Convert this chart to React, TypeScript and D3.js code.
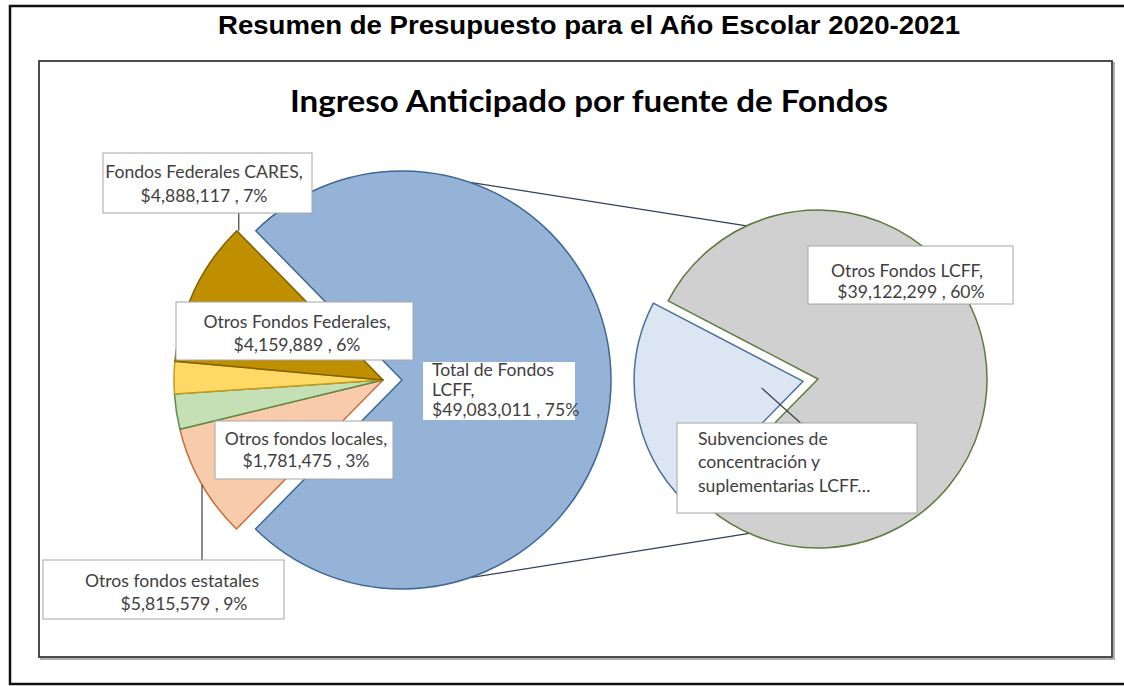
import React from 'react';
import * as d3 from 'd3';

// ---- data ----
const mainCategories = [
  'Total de Fondos LCFF',
  'Otros fondos estatales',
  'Otros fondos locales',
  'Otros Fondos Federales',
  'Fondos Federales CARES',
];
const mainAmounts = [49083011, 5815579, 1781475, 4159889, 4888117];
const mainPercentLabels = ['75%', '9%', '3%', '6%', '7%'];
// wedge sizes as they are drawn in the reference (percent of the circle)
const mainDrawnShares = [74.7, 8.85, 2.71, 2.5, 11.24];

const subCategories = ['Subvenciones de concentración y suplementarias LCFF', 'Otros Fondos LCFF'];
const subAmounts = [9960712, 39122299];
const subPercentLabels = ['15%', '60%'];

const mainFills = ['#95b3d7', '#f8cbad', '#c5e0b4', '#ffd966', '#bf8f00'];
const mainStrokes = ['#3d6796', '#c8703a', '#5f8a45', '#c49a1c', '#7f6000'];
const subFills = ['#dce6f2', '#d0d0d0'];
const subStrokes = ['#4e6f9c', '#5f7a3e'];

const W = 1124;
const H = 686;
const rad = (d: number) => (d * Math.PI) / 180;
const money = d3.format('$,');

const FONT = 'Lato, Carlito, Calibri, sans-serif';
const TXT = '#404040';

function pt(cx: number, cy: number, r: number, a: number): [number, number] {
  return [cx + r * Math.sin(a), cy - r * Math.cos(a)];
}

export default function App() {
  // main pie
  const c1 = { x: 383, y: 380 };
  const R1 = 209;
  const explode1 = 19;
  const start1 = rad(-44.4);
  const pieMain = d3.pie<number>().sort(null).startAngle(start1).endAngle(start1 + 2 * Math.PI)(mainDrawnShares);
  const arc1 = d3.arc<d3.PieArcDatum<number>>().innerRadius(0).outerRadius(R1);

  // second pie
  const c2 = { x: 818, y: 379 };
  const R2 = 169;
  const explode2 = 15;
  const start2 = rad(-135.5);
  const pieSub = d3.pie<number>().sort(null).startAngle(start2).endAngle(start2 + 2 * Math.PI)(subAmounts);
  const arc2 = d3.arc<d3.PieArcDatum<number>>().innerRadius(0).outerRadius(R2);

  const offsetOf = (d: d3.PieArcDatum<number>, e: number) => {
    const m = (d.startAngle + d.endAngle) / 2;
    return [e * Math.sin(m), -e * Math.cos(m)];
  };

  const blue = pieMain[0];
  const [bx, by] = offsetOf(blue, explode1);
  const blueC = { x: c1.x + bx, y: c1.y + by };
  const subV = pieSub[0];
  const [sx, sy] = offsetOf(subV, explode2);
  const subC = { x: c2.x + sx, y: c2.y + sy };

  // connector lines between the pies
  const lt1 = pt(blueC.x, blueC.y, R1, rad(19));
  const lt2 = pt(c2.x, c2.y, R2, rad(335));
  const lb1 = pt(blueC.x, blueC.y, R1, rad(161));
  const lb2 = pt(c2.x, c2.y, R2, rad(204));

  // leader lines
  const caresTip = pt(c1.x, c1.y, R1, pieMain[4].endAngle);
  const estX = 202;
  const estY = c1.y + Math.sqrt(R1 * R1 - (c1.x - estX) * (c1.x - estX));
  const subMid = (subV.startAngle + subV.endAngle) / 2;
  const subIn = pt(subC.x, subC.y, R2 * 0.25, subMid);

  const lbl = (i: number) => `${money(mainAmounts[i])} , ${mainPercentLabels[i]}`;

  const Box = ({ x, y, w, h }: { x: number; y: number; w: number; h: number }) => (
    <rect x={x} y={y} width={w} height={h} fill="#fff" stroke="#a6a6a6" strokeWidth={1} />
  );

  return (
    <svg width={W} height={H} style={{ position: 'absolute', left: 0, top: 0, background: '#fff' }} fontFamily={FONT}>
      {/* outer frame */}
      <rect x={10} y={6} width={1130} height={678} fill="#fff" stroke="#111" strokeWidth={2.5} />
      <text x={589} y={34} textAnchor="middle" fontFamily="'Liberation Sans', Arial, sans-serif" fontWeight="bold" fontSize={26} fill="#000" textLength={742} lengthAdjust="spacingAndGlyphs">
        Resumen de Presupuesto para el Año Escolar 2020-2021
      </text>
      {/* inner chart box with shadow */}
      <rect x={41} y={63} width={1073} height={596} fill="none" stroke="#b0b0b0" strokeWidth={2} />
      <rect x={39} y={61} width={1073} height={596} fill="#fff" stroke="#3a3a3a" strokeWidth={1.8} />
      <text x={589} y={112} textAnchor="middle" fontWeight="bold" fontSize={31} fill="#000" textLength={598} lengthAdjust="spacingAndGlyphs">
        Ingreso Anticipado por fuente de Fondos
      </text>

      {/* connector lines */}
      <line x1={lt1[0]} y1={lt1[1]} x2={lt2[0]} y2={lt2[1]} stroke="#34405a" strokeWidth={1.3} />
      <line x1={lb1[0]} y1={lb1[1]} x2={lb2[0]} y2={lb2[1]} stroke="#34405a" strokeWidth={1.3} />

      {/* main pie */}
      {pieMain.map((d, i) => {
        const [ox, oy] = i === 0 ? offsetOf(d, explode1) : [0, 0];
        return (
          <path
            key={mainCategories[i]}
            d={arc1(d) as string}
            transform={`translate(${c1.x + ox},${c1.y + oy})`}
            fill={mainFills[i]}
            stroke={mainStrokes[i]}
            strokeWidth={1.5}
            strokeLinejoin="round"
          />
        );
      })}

      {/* second pie */}
      {pieSub.map((d, i) => {
        const [ox, oy] = i === 0 ? offsetOf(d, explode2) : [0, 0];
        return (
          <path
            key={subCategories[i]}
            d={arc2(d) as string}
            transform={`translate(${c2.x + ox},${c2.y + oy})`}
            fill={subFills[i]}
            stroke={subStrokes[i]}
            strokeWidth={1.5}
            strokeLinejoin="round"
          />
        );
      })}

      {/* leader lines */}
      <line x1={caresTip[0] + 2} y1={213} x2={caresTip[0] + 2} y2={caresTip[1]} stroke="#404040" strokeWidth={1.2} />
      <line x1={estX} y1={estY} x2={estX} y2={560} stroke="#404040" strokeWidth={1.2} />
      <line x1={subIn[0]} y1={subIn[1]} x2={805} y2={427} stroke="#404040" strokeWidth={1.2} />

      {/* labels */}
      <g fontSize={17.6} fill={TXT}>
        <Box x={103} y={153} w={209} h={60} />
        <text x={204} y={178} textAnchor="middle">{mainCategories[4]},</text>
        <text x={204} y={202} textAnchor="middle">{lbl(4)}</text>

        <Box x={176} y={302} w={237} h={58} />
        <text x={297} y={328} textAnchor="middle">{mainCategories[3]},</text>
        <text x={297} y={351} textAnchor="middle">{lbl(3)}</text>

        <Box x={215} y={421} w={178} h={58} />
        <text x={306} y={445} textAnchor="middle">{mainCategories[2]},</text>
        <text x={306} y={467} textAnchor="middle">{lbl(2)}</text>

        <Box x={43} y={560} w={241} h={59} />
        <text x={172} y={587} textAnchor="middle">{mainCategories[1]}</text>
        <text x={184} y={610} textAnchor="middle">{lbl(1)}</text>

        <rect x={423} y={362} width={152} height={58} fill="#fff" />
        <text x={432} y={376}>Total de Fondos</text>
        <text x={432} y={396}>LCFF,</text>
        <text x={432} y={416}>{lbl(0)}</text>

        <Box x={808} y={246} w={205} h={58} />
        <text x={907} y={277} textAnchor="middle">{subCategories[1]},</text>
        <text x={911} y={298} textAnchor="middle">{`${money(subAmounts[1])} , ${subPercentLabels[1]}`}</text>

        <Box x={677} y={423} w={240} h={90} />
        <text x={698} y={445}>Subvenciones de</text>
        <text x={698} y={468}>concentración y</text>
        <text x={698} y={492}>suplementarias LCFF…</text>
      </g>
    </svg>
  );
}
